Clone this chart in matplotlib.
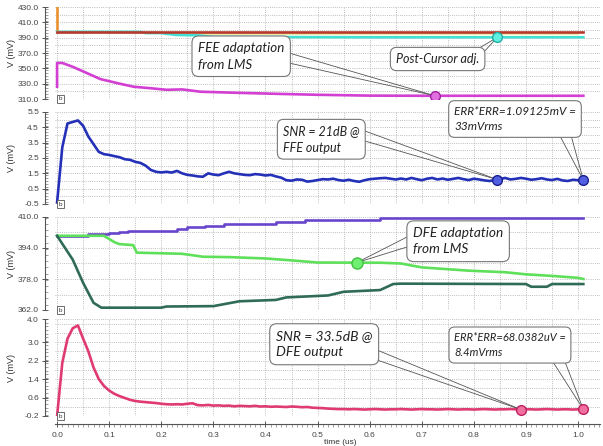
import numpy as np
import matplotlib
matplotlib.use("Agg")
import matplotlib.pyplot as plt
from matplotlib.ticker import FixedLocator, MultipleLocator, FormatStrFormatter

W, H = 603, 446

# ---------------- values ----------------
# panel 1 : FFE tap adaptation (mV)
t_tap_red = [0.0, 1.01]
v_tap_red = [397.5, 397.5]
t_tap_orange = [0.0, 0.0]
v_tap_orange = [430.0, 397.5]
t_tap_yellow = [0.22, 1.0]
v_tap_yellow = [394.6, 394.6]
t_tap_cyan = [0.0, 0.16, 0.17, 0.20, 0.21, 0.23, 0.27, 0.30, 0.60, 1.01]
v_tap_cyan = [397.5, 397.5, 396.0, 396.0, 395.0, 393.5, 393.0, 391.0, 390.5, 390.5]
t_tap_mag = [0.0, 0.0, 0.01, 0.03, 0.06, 0.083, 0.12, 0.147, 0.18, 0.21, 0.24,
             0.275, 0.30, 0.35, 0.43, 0.50, 0.60, 0.70, 1.01]
v_tap_mag = [326, 357, 357, 352, 343, 336, 330, 326, 324, 322, 322.5,
             319.5, 319, 318, 316.6, 315.5, 314.4, 314.2, 314.2]

# panels 2 and 4 : error at FFE / DFE output (mV), sampled every 10 ns
t_out = np.round(np.arange(102) * 0.01, 2)
v_ffe = [-0.4, 3.2, 4.75, 4.85, 4.95, 4.6, 3.9, 3.4, 2.9, 2.75,
         2.7, 2.62, 2.55, 2.42, 2.38, 2.25, 2.18, 2.0, 1.72, 1.6,
         1.56, 1.6, 1.55, 1.66, 1.5, 1.4, 1.36, 1.3, 1.28, 1.5,
         1.42, 1.38, 1.5, 1.6, 1.5, 1.45, 1.4, 1.38, 1.45, 1.42,
         1.36, 1.4, 1.3, 1.22, 1.05, 1.02, 1.1, 1.08, 0.96, 1.0,
         1.06, 1.12, 1.1, 1.15, 1.06, 1.02, 1.08, 1.0, 0.95, 1.05,
         1.12, 1.15, 1.18, 1.2, 1.15, 1.1, 1.16, 1.1, 1.2, 1.12,
         1.05, 1.15, 1.2, 1.1, 1.16, 1.08, 1.14, 1.2, 1.12, 1.06,
         1.15, 1.1, 1.04, 1.0, 1.06, 1.12, 1.2, 1.1, 1.14, 1.2,
         1.15, 1.08, 1.12, 1.18, 1.1, 1.06, 1.14, 1.04, 1.0, 1.08,
         1.05, 1.06]
v_dfe = [-0.2, 2.1, 3.15, 3.6, 3.72, 3.15, 2.6, 1.9, 1.4, 1.1,
         0.9, 0.76, 0.66, 0.58, 0.5, 0.45, 0.42, 0.4, 0.38, 0.36,
         0.33, 0.31, 0.3, 0.31, 0.3, 0.33, 0.35, 0.27, 0.26, 0.28,
         0.25, 0.26, 0.24, 0.25, 0.22, 0.24, 0.23, 0.22, 0.24, 0.21,
         0.22, 0.2, 0.21, 0.2, 0.19, 0.21, 0.2, 0.18, 0.19, 0.16,
         0.15, 0.14, 0.12, 0.11, 0.1, 0.1, 0.09, 0.1, 0.09, 0.08,
         0.09, 0.1, 0.09, 0.08, 0.09, 0.09, 0.1, 0.09, 0.08, 0.09,
         0.1, 0.09, 0.09, 0.08, 0.09, 0.1, 0.09, 0.08, 0.09, 0.09,
         0.08, 0.09, 0.1, 0.09, 0.08, 0.09, 0.09, 0.1, 0.09, 0.08,
         0.09, 0.09, 0.08, 0.09, 0.1, 0.09, 0.08, 0.09, 0.09, 0.08,
         0.09, 0.09]

# panel 3 : DFE tap adaptation (mV)
t_dfe_purple = [0, 0.06, 0.1, 0.118, 0.137, 0.23, 0.25, 0.284, 0.32, 0.42, 0.476, 0.62, 1.01]
v_dfe_purple = [400.3, 401.0, 401.5, 402.2, 403.0, 403.6, 404.8, 405.4, 406.4, 407.3, 408.3, 409.4, 409.4]
t_dfe_light = [0, 0.09, 0.11, 0.12, 0.146, 0.153, 0.24, 0.28, 0.33, 0.4, 0.45, 0.5,
               0.62, 0.66, 0.70, 0.79, 0.86, 0.90, 0.95, 1.0, 1.01]
v_dfe_light = [400.3, 400.3, 397, 396, 395.5, 391.6, 391, 389.5, 389.3, 388.6, 387.6, 386.5,
               386.4, 386, 384, 382.3, 381.5, 380.4, 379.6, 378.6, 378]
t_dfe_dark = [0, 0.03, 0.05, 0.07, 0.085, 0.2, 0.21, 0.3, 0.33, 0.35, 0.42, 0.44, 0.52,
              0.55, 0.62, 0.645, 0.66, 0.9, 0.91, 0.94, 0.95, 1.01]
v_dfe_dark = [400.3, 388, 376, 365.7, 363.2, 363.2, 363.8, 364, 365.5, 366.5, 367.2, 368.5, 369.5,
              371.4, 372.3, 375.4, 375.6, 375.4, 374, 374, 375.4, 375.4]

# marker times
mk_cyan = [0.845]
mk_mag = [0.725]
mk_ffe = [0.845, 1.01]
mk_light = [0.575]
mk_dfe = [0.89, 1.01]

fig = plt.figure(figsize=(W / 100, H / 100), dpi=100)
plt.rcParams['font.family'] = ['Liberation Sans', 'DejaVu Sans']

panels = [(7, 99), (112, 204), (217, 310), (319, 416)]
axes = []
for top, bot in panels:
    axes.append(fig.add_axes([55 / W, 1 - bot / H, 545 / W, (bot - top) / H]))


def style(ax, ylim, yticks, fmt, minor, hgrid, bottom=False):
    ax.set_xlim(-0.004, 1.042)
    ax.set_ylim(*ylim)
    ax.set_facecolor('none')
    ax.spines['top'].set_visible(False)
    ax.spines['right'].set_visible(False)
    ax.spines['left'].set_position(('outward', 7))
    ax.spines['left'].set_color('#555555')
    ax.spines['left'].set_linewidth(0.8)
    ax.yaxis.set_major_locator(FixedLocator(yticks))
    ax.yaxis.set_major_formatter(FormatStrFormatter(fmt))
    ax.yaxis.set_minor_locator(MultipleLocator(minor))
    ax.tick_params(axis='y', which='major', direction='inout', length=5, width=0.7,
                   labelsize=6, labelcolor='#444444', color='#555555', pad=2)
    ax.tick_params(axis='y', which='minor', direction='in', length=2, width=0.5, color='#777777')
    for x in np.arange(0, 1.04, 0.05):
        ax.axvline(x, color='#a8a8a8', lw=0.6, ls=(0, (1, 1.6)), zorder=0)
    for y in hgrid:
        ax.axhline(y, color='#a8a8a8', lw=0.6, ls=(0, (1, 1.6)), zorder=0)
    ax.text(0.007, 0.0, 'b', transform=ax.transAxes, fontsize=4.5, ha='left', va='center',
            color='#333333', bbox=dict(boxstyle='square,pad=0.25', fc='white', ec='#555555', lw=0.6))
    if bottom:
        ax.spines['bottom'].set_position(('outward', 6))
        ax.spines['bottom'].set_color('#555555')
        ax.spines['bottom'].set_linewidth(0.8)
        ax.xaxis.set_major_locator(MultipleLocator(0.1))
        ax.xaxis.set_minor_locator(MultipleLocator(0.01))
        ax.xaxis.set_major_formatter(FormatStrFormatter('%.1f'))
        ax.tick_params(axis='x', which='major', direction='inout', length=5, width=0.7,
                       labelsize=6, labelcolor='#444444', color='#555555', pad=3)
        ax.tick_params(axis='x', which='minor', direction='out', length=2.5, width=0.5, color='#777777')
    else:
        ax.spines['bottom'].set_visible(False)
        ax.set_xticks([])


ax1, ax2, ax3, ax4 = axes
style(ax1, (310, 430), [310, 330, 350, 370, 390, 410, 430], '%.1f', 4, np.arange(310, 431, 10))
style(ax2, (-0.5, 5.5), [-0.5, 0.5, 1.5, 2.5, 3.5, 4.5, 5.5], '%.1f', 0.2, np.arange(-0.5, 5.6, 0.5))
style(ax3, (362, 410), [362, 378, 394, 410], '%.1f', 3.2, np.arange(362, 411, 8))
style(ax4, (-0.2, 4.0), [-0.2, 0.6, 1.4, 2.2, 3.0, 4.0], '%.1f', 0.16,
      list(np.arange(-0.2, 3.9, 0.4)) + [4.0], bottom=True)

lw = 1.9
# panel 1
ax1.plot(t_tap_orange, v_tap_orange, color='#e8912e', lw=lw)
ax1.plot(t_tap_yellow, v_tap_yellow, color='#eee9a6', lw=1.6)
ax1.plot(t_tap_cyan, v_tap_cyan, color='#45e0d4', lw=lw)
ax1.plot(t_tap_red, v_tap_red, color='#b8382c', lw=lw)
ax1.plot(t_tap_mag, v_tap_mag, color='#d23fd2', lw=lw)
ax1.plot(mk_cyan, np.interp(mk_cyan, t_tap_cyan, v_tap_cyan), 'o', ms=7,
         mfc='#5ff0e0', mec='#20b0a8', mew=1.0, zorder=4)
ax1.plot(mk_mag, np.interp(mk_mag, t_tap_mag[1:], v_tap_mag[1:]), 'o', ms=7,
         mfc='#e070e0', mec='#a020a0', mew=1.0, zorder=4)

# panel 2
ax2.plot(t_out, v_ffe, color='#2430b8', lw=lw)
ax2.plot(mk_ffe, np.interp(mk_ffe, t_out, v_ffe), 'o', ms=7,
         mfc='#5060e0', mec='#1a2090', mew=1.0, zorder=4)

# panel 3
ax3.plot(t_dfe_purple, v_dfe_purple, color='#6846cc', lw=lw, drawstyle='steps-post')
ax3.plot(t_dfe_light, v_dfe_light, color='#5ee05a', lw=lw)
ax3.plot(t_dfe_dark, v_dfe_dark, color='#2f6b57', lw=lw)
ax3.plot(mk_light, np.interp(mk_light, t_dfe_light, v_dfe_light), 'o', ms=8,
         mfc='#70f070', mec='#40c040', mew=1.0, zorder=4)

# panel 4
ax4.plot(t_out, v_dfe, color='#df3b72', lw=lw)
ax4.plot(mk_dfe, np.interp(mk_dfe, t_out, v_dfe), 'o', ms=7,
         mfc='#f070a0', mec='#c02060', mew=1.0, zorder=4)


def callout(ax, text, pos, marker, anchors, size=9):
    fig.text(pos[0] / W, 1 - pos[1] / H, text, ha='left', va='top', fontsize=size,
             family=['Lato', 'DejaVu Sans'], style='italic', linespacing=1.45, color='#222222',
             bbox=dict(boxstyle='round,pad=0.45,rounding_size=0.5', fc='white', ec='#777777', lw=0.8),
             zorder=5)
    for axp, ayp in anchors:
        ax.annotate('', xy=marker, xycoords='data', xytext=(axp, H - ayp), textcoords='figure pixels',
                    arrowprops=dict(arrowstyle='-', color='#555555', lw=0.6, shrinkA=0, shrinkB=3),
                    annotation_clip=False)


callout(ax1, 'FEE adaptation\nfrom LMS', (198, 42),
        (mk_mag[0], np.interp(mk_mag[0], t_tap_mag[1:], v_tap_mag[1:])), [(289, 53), (289, 63)], size=9.6)
callout(ax1, 'Post-Cursor adj.', (396, 53),
        (mk_cyan[0], np.interp(mk_cyan[0], t_tap_cyan, v_tap_cyan)), [(476, 50), (482, 54)])
callout(ax2, 'SNR = 21dB @\nFFE output', (283, 125),
        (mk_ffe[0], np.interp(mk_ffe[0], t_out, v_ffe)), [(365, 131), (365, 141)])
callout(ax2, 'ERR*ERR=1.09125mV =\n33mVrms', (454, 106),
        (mk_ffe[1], np.interp(mk_ffe[1], t_out, v_ffe)), [(560, 136), (569, 128)], size=8.5)
callout(ax3, 'DFE adaptation\nfrom LMS', (413, 227),
        (mk_light[0], np.interp(mk_light[0], t_dfe_light, v_dfe_light)), [(407, 237), (407, 247)], size=9.8)
callout(ax4, 'SNR = 33.5dB @\nDFE output', (276, 330),
        (mk_dfe[0], np.interp(mk_dfe[0], t_out, v_dfe)), [(377, 350), (377, 360)], size=10)
callout(ax4, 'ERR*ERR=68.0382uV =\n8.4mVrms', (454, 332),
        (mk_dfe[1], np.interp(mk_dfe[1], t_out, v_dfe)), [(553, 362), (562, 354)], size=8)

for top, bot in panels:
    fig.text(11 / W, 1 - (top + bot) / 2 / H, 'V (mV)', rotation=90, fontsize=6.5,
             ha='center', va='center', color='#333333')
fig.text(340 / W, 1 - 443 / H, 'time (us)', fontsize=6, ha='center', va='center', color='#333333')

fig.savefig('out.png', dpi=100, facecolor='white')
